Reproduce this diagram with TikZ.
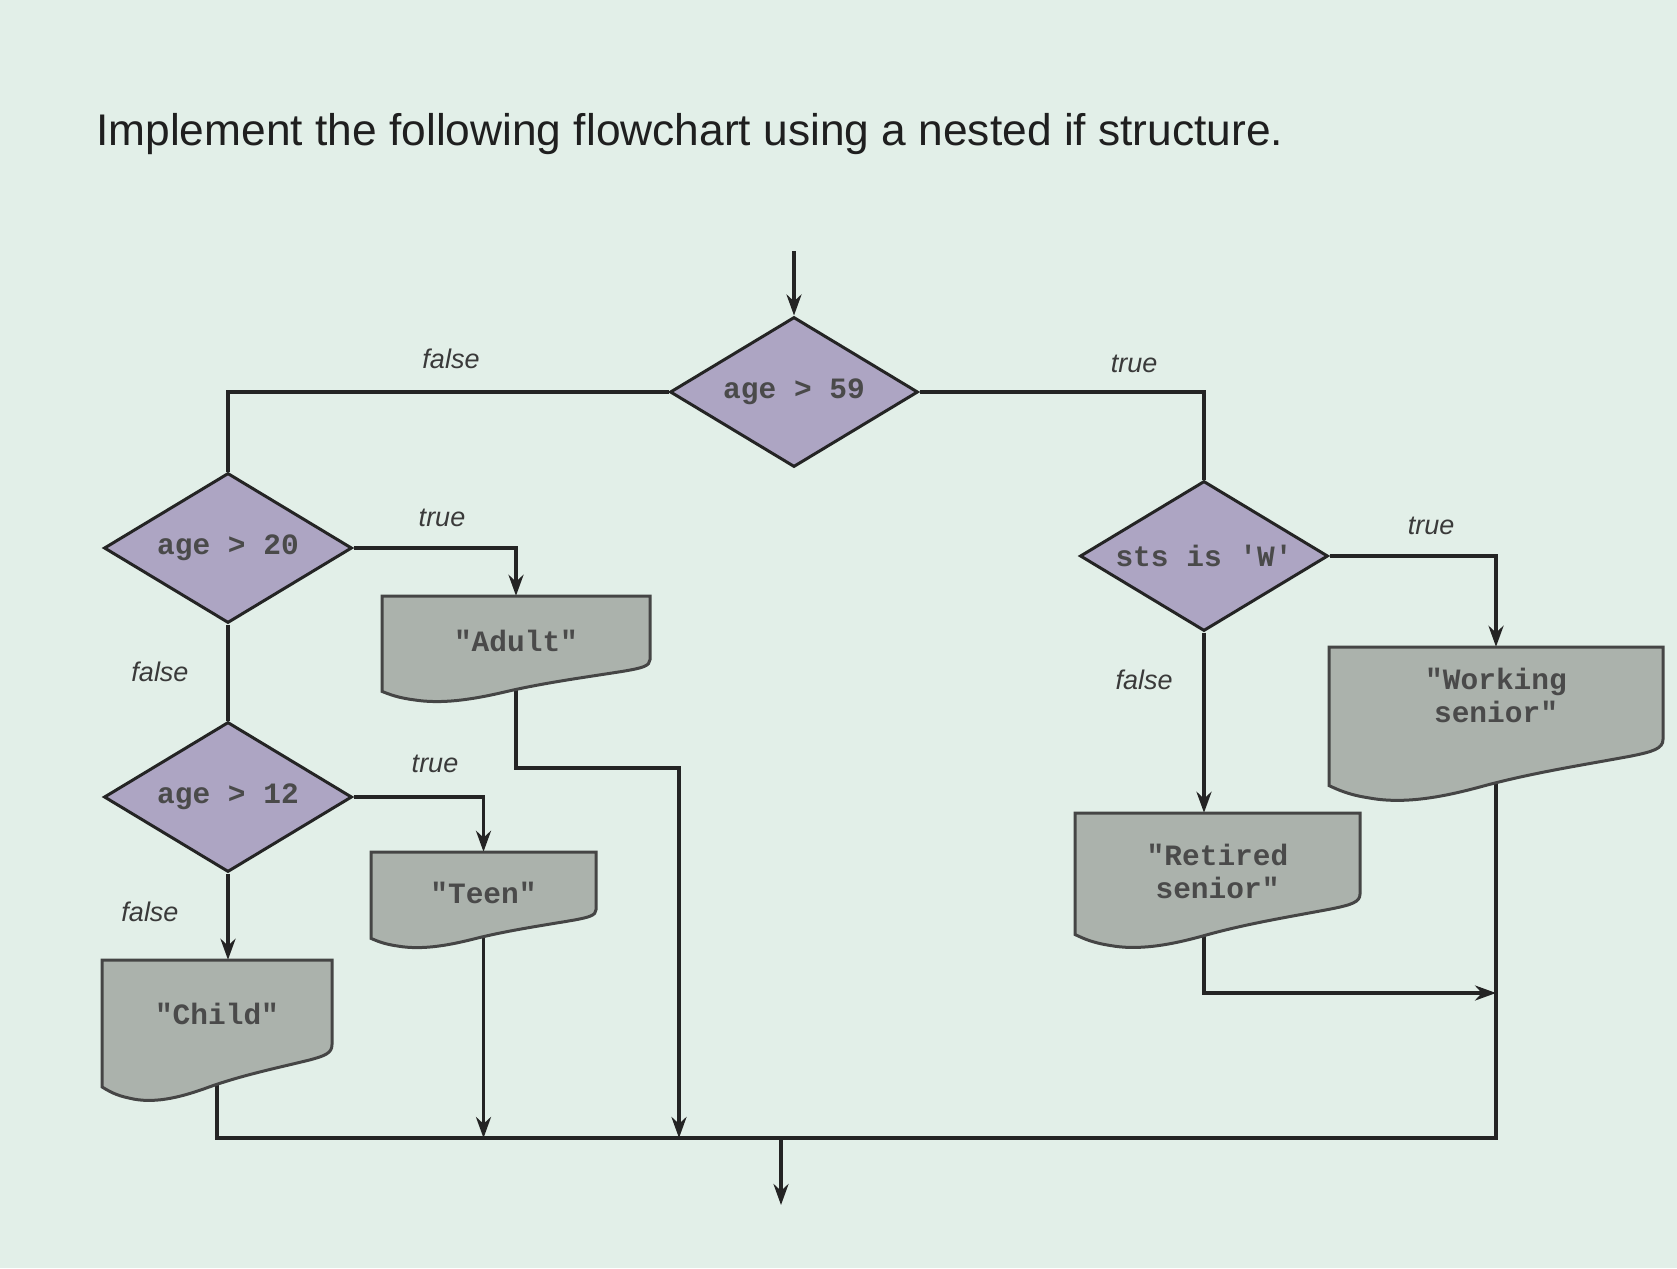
\documentclass[tikz,border=0pt]{standalone}
\usepackage{fontspec}
\setmainfont{Liberation Sans}
\setmonofont{Liberation Mono}
\usetikzlibrary{arrows.meta,shapes.geometric,calc}
\pgfdeclarelayer{bglayer}
\pgfdeclarelayer{lines}
\pgfdeclarelayer{shapes}
\pgfsetlayers{bglayer,lines,shapes,main}

\definecolor{bg}{HTML}{E2EFE8}
\definecolor{dfill}{HTML}{ADA5C3}
\definecolor{bfill}{HTML}{ABB2AC}
\definecolor{ink}{HTML}{242424}
\definecolor{txt}{HTML}{4A4A4A}
\definecolor{labc}{HTML}{3A3A3A}

\tikzset{
  flow/.style={line width=3.5pt, draw=ink, -{Stealth[length=21pt,width=15pt]}},
  link/.style={line width=3.5pt, draw=ink},
  decision/.style={diamond, aspect=2, draw=ink, line width=3pt, fill=dfill,
    inner sep=0pt, minimum width=248pt, minimum height=150pt,
    text=txt, font=\fontsize{29.5}{33}\ttfamily\bfseries},
  docshape/.style={draw=ink!85, line width=3pt, fill=bfill},
  docnode/.style={rectangle, draw=none, inner sep=0pt, align=center,
    text=txt, font=\fontsize{29.5}{33}\ttfamily\bfseries},
  lab/.style={text=labc, font=\fontsize{27}{30}\selectfont\itshape, inner sep=0pt},
}

% #1 name, #2 left, #3 top, #4 right, #5 bottom, #6 text, #7 extra node options
\newcommand\docbox[7]{%
\begin{pgfonlayer}{shapes}
\path[docshape] (#2,#3) -- (#4,#3) -- (#4,{#3+0.6*(#5-#3)})
 .. controls (#4,{#3+0.66*(#5-#3)}) and ({#2+0.97*(#4-#2)},{#3+0.68*(#5-#3)}) .. ({#2+0.9*(#4-#2)},{#3+0.71*(#5-#3)})
 .. controls ({#2+0.75*(#4-#2)},{#3+0.77*(#5-#3)}) and ({#2+0.6*(#4-#2)},{#3+0.82*(#5-#3)}) .. ({#2+0.45*(#4-#2)},{#3+0.91*(#5-#3)})
 .. controls ({#2+0.33*(#4-#2)},{#3+0.98*(#5-#3)}) and ({#2+0.22*(#4-#2)},{#3+1.02*(#5-#3)}) .. ({#2+0.12*(#4-#2)},{#3+0.98*(#5-#3)})
 .. controls ({#2+0.06*(#4-#2)},{#3+0.96*(#5-#3)}) and ({#2+0.03*(#4-#2)},{#3+0.93*(#5-#3)}) .. (#2,{#3+0.9*(#5-#3)}) -- cycle;
\end{pgfonlayer}
\node[docnode, minimum width=#4pt-#2pt, minimum height=#5pt-#3pt, #7] (#1) at ({(#2+#4)/2},{(#3+#5)/2}) {#6};
}

\begin{document}
\begin{tikzpicture}[x=1pt,y=-1pt]
\begin{pgfonlayer}{bglayer}
\fill[bg] (0,0) rectangle (1677,1268);
\end{pgfonlayer}
\useasboundingbox (0,0) rectangle (1677,1268);

% title
\node[anchor=west, inner sep=0pt, text=black!88] (title) at (96,134)
  {\resizebox{1187pt}{!}{Implement the following flowchart using a nested if structure.}};

% decisions
\node[decision] (d59) at (794,392) {age > 59};
\node[decision] (d20) at (228,548) {age > 20};
\node[decision] (d12) at (228,797) {age > 12};
\node[decision] (dsts) at (1204,556) {sts is 'W'};

% output boxes
\docbox{adult}{382}{596}{650}{702}{"Adult"}{text depth=16pt}
\docbox{teen}{371}{852}{596}{948}{"Teen"}{text depth=14pt}
\docbox{child}{102}{960}{332}{1101}{"Child"}{text depth=34pt}
\docbox{retired}{1075}{813}{1360}{948}{"Retired\\senior"}{text depth=18pt}
\docbox{work}{1329}{647}{1663}{801}{"Working\\senior"}{text depth=58pt}

% coordinates
\coordinate (start) at (794,251);
\coordinate (bl) at (0,1138);
\coordinate (jA) at (679,768);
\coordinate (jR) at (0,993);
\coordinate (endp) at (781,1205);

% labels
\node[lab] (lf59) at (451,359) {false};
\node[lab] (lt59) at (1134,364) {true};
\node[lab] (lt20) at (442,518) {true};
\node[lab] (lf20) at (160,672) {false};
\node[lab] (lt12) at (435,764) {true};
\node[lab] (lf12) at (150,912) {false};
\node[lab] (ltsts) at (1431,526) {true};
\node[lab] (lfsts) at (1144,680) {false};

% connectors
\begin{pgfonlayer}{lines}
\draw[flow] (start) -- (d59.north);
\draw[link] (d59.west) -| (d20.north);
\draw[link] (d59.east) -| (dsts.north);
\draw[flow] (d20.east) -| (adult.north);
\draw[link] (d20.south) -- (d12.north);
\draw[flow] (d12.east) -| (teen.north);
\draw[flow] (d12.south) -- (d12.south |- child.north);
\draw[flow] (dsts.east) -| (work.north);
\draw[flow] (dsts.south) -- (dsts.south |- retired.north);
\draw[flow] (adult.center) |- (jA) -- (jA |- bl);
\draw[flow] (teen.center) -- (teen.center |- bl);
\draw[link] (child.center) |- (work.center |- bl) -- (work.center);
\draw[flow] (dsts.south |- retired.center) |- (work.center |- jR);
\draw[flow] (endp |- bl) -- (endp);
\end{pgfonlayer}
\end{tikzpicture}
\end{document}
